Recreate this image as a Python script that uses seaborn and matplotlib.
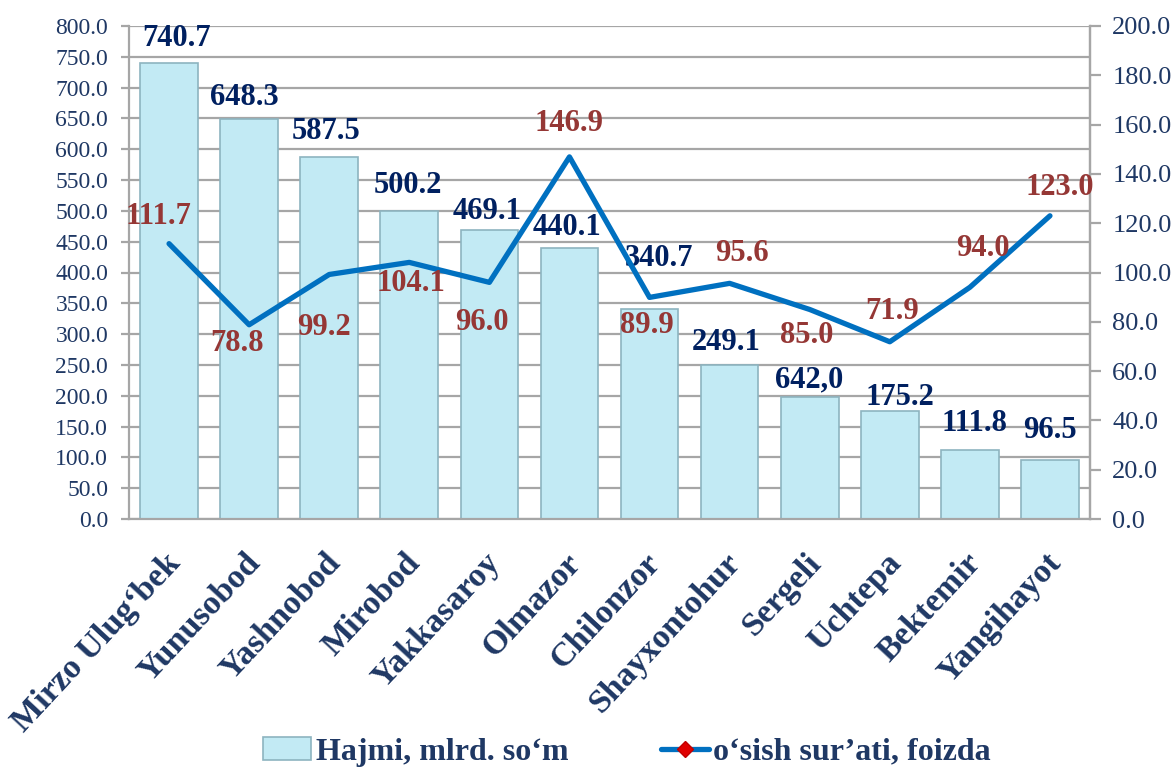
import numpy as np
import pandas as pd
import matplotlib
matplotlib.use('Agg')
import matplotlib.pyplot as plt
import matplotlib.transforms as mtransforms
from matplotlib.patches import Patch
from matplotlib.lines import Line2D
import seaborn as sns

# Ma'lumotlar
tumanlar = ['Mirzo Ulug‘bek', 'Yunusobod', 'Yashnobod', 'Mirobod', 'Yakkasaroy', 'Olmazor',
            'Chilonzor', 'Shayxontohur', 'Sergeli', 'Uchtepa', 'Bektemir', 'Yangihayot']
hajmi = [740.7, 648.3, 587.5, 500.2, 469.1, 440.1, 340.7, 249.1, 198.0, 175.2, 111.8, 96.5]
hajmi_yozuv = ['740.7', '648.3', '587.5', '500.2', '469.1', '440.1', '340.7', '249.1', '642,0', '175.2', '111.8', '96.5']
osish = [111.7, 78.8, 99.2, 104.1, 96.0, 146.9, 89.9, 95.6, 85.0, 71.9, 94.0, 123.0]

# yozuvlarning joylashuvi (piksel siljishi)
bar_off = [(8, 24), (-5, 22), (-3, 25), (-1, 25), (-2, 18), (-2, 20),
           (10, 51), (-3, 23), (-1, 17), (10, 14), (5, 27), (0, 29)]
line_off = [(-11, 27), (-12, -19), (-5, -53), (2, -21), (-7, -40), (0, 33),
            (-3, -28), (12, 30), (-3, -26), (2, 30), (13, 39), (10, 28)]

NAVY = '#002060'
TICK = '#1F3864'
RED = '#953735'
BLUE = '#0070C0'
GRID = '#A6A6A6'
BAR = '#C2EAF4'
SERIF = ['Liberation Serif', 'DejaVu Serif']

sns.set_style('white')
plt.rcParams['font.family'] = SERIF

df = pd.DataFrame({'tuman': tumanlar, 'hajmi': hajmi, 'osish': osish})

fig = plt.figure(figsize=(11.75, 7.67), dpi=100)
ax = fig.add_axes([129 / 1175, 1 - 519 / 767, 961 / 1175, 493 / 767])

sns.barplot(data=df, x='tuman', y='hajmi', ax=ax, color=BAR, saturation=1,
            width=0.72, edgecolor='#8DB4C0', linewidth=1.2, zorder=2)
ax.set_xlim(-0.5, len(tumanlar) - 0.5)
ax.set_ylim(0, 800)
ax.set_yticks(np.arange(0, 801, 50))
ax.set_yticklabels([f'{v:.1f}' for v in np.arange(0, 801, 50)])
ax.yaxis.grid(True, color=GRID, linewidth=1.6)
ax.set_axisbelow(True)
ax.set_xlabel('')
ax.set_ylabel('')

ax.spines['top'].set_visible(False)
for s in ['left', 'bottom', 'right']:
    ax.spines[s].set_color(GRID)
    ax.spines[s].set_linewidth(1.6)

ax.tick_params(axis='y', length=6, width=1.6, color=GRID, labelsize=17, labelcolor=TICK, pad=9)
ax.set_xticks(np.arange(len(tumanlar)))
ax.set_xticks(np.arange(-0.5, len(tumanlar), 1), minor=True)
ax.tick_params(axis='x', which='major', length=0, pad=28)
ax.tick_params(axis='x', which='minor', length=8, width=1.6, color=GRID)
ax.set_xticklabels(tumanlar, rotation=47, ha='right', va='center', rotation_mode='anchor',
                   fontsize=24.5, fontweight='bold', color=TICK)
shift = mtransforms.ScaledTranslation(6 / 100, 0, fig.dpi_scale_trans)
for lab in ax.get_xticklabels():
    lab.set_transform(lab.get_transform() + shift)

for i, (v, t) in enumerate(zip(hajmi, hajmi_yozuv)):
    ax.annotate(t, (i, v), xytext=bar_off[i], textcoords='offset pixels', ha='center', va='center',
                fontsize=22, fontweight='bold', color=NAVY, zorder=3)

ax2 = ax.twinx()
sns.lineplot(x=np.arange(len(osish)), y=osish, ax=ax2, color=BLUE, linewidth=3.8, zorder=4)
ax2.set_ylim(0, 200)
ax2.set_yticks(np.arange(0, 201, 20))
ax2.set_yticklabels([f'{v:.1f}' for v in np.arange(0, 201, 20)])
ax2.tick_params(axis='y', length=8, width=1.6, color=GRID, labelsize=19, labelcolor=TICK, pad=8)
for s in ['top', 'left', 'bottom']:
    ax2.spines[s].set_visible(False)
ax2.spines['right'].set_color(GRID)
ax2.spines['right'].set_linewidth(1.6)
ax2.set_ylabel('')

for i, v in enumerate(osish):
    ax2.annotate(f'{v:.1f}', (i, v), xytext=line_off[i], textcoords='offset pixels', ha='center', va='center',
                 fontsize=22, fontweight='bold', color=RED, zorder=5)

handles = [Patch(facecolor=BAR, edgecolor='#8DB4C0', linewidth=1.2),
           Line2D([0], [0], color=BLUE, linewidth=3.8, marker='D', markersize=8,
                  markerfacecolor='#E00000', markeredgecolor='#C00000')]
fig.legend(handles, ['Hajmi, mlrd. so‘m', 'o‘sish sur’ati, foizda'], loc='center',
           bbox_to_anchor=(627 / 1175, 1 - 752 / 767), ncol=2, frameon=False, columnspacing=2.9,
           handlelength=1.5, handletextpad=0.15,
           prop={'family': SERIF, 'weight': 'bold', 'size': 23},
           labelcolor=TICK)

fig.savefig('out.png', dpi=100)
